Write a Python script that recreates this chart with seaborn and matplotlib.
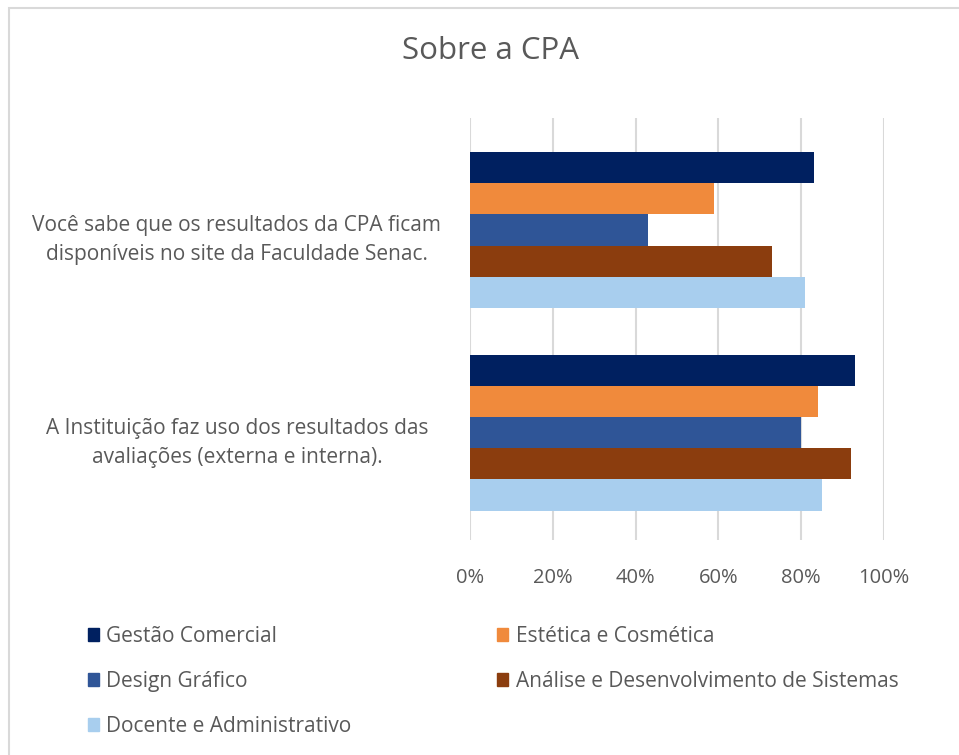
import matplotlib
matplotlib.use('Agg')
import matplotlib.pyplot as plt
import matplotlib.patches as mpatches
import matplotlib.transforms as mtrans
import pandas as pd
import seaborn as sns

perguntas = ['Você sabe que os resultados da CPA ficam\ndisponíveis no site da Faculdade Senac.',
             'A Instituição faz uso dos resultados das\navaliações (externa e interna).']
cursos = ['Gestão Comercial', 'Estética e Cosmética', 'Design Gráfico',
          'Análise e Desenvolvimento de Sistemas', 'Docente e Administrativo']
cores = ['#002060', '#F08A3C', '#2F5597', '#8B3D0E', '#A8CEEE']

gestao = [0.83, 0.93]
estetica = [0.59, 0.84]
design = [0.43, 0.80]
analise = [0.73, 0.92]
docente = [0.81, 0.85]
ticks = [0, 0.2, 0.4, 0.6, 0.8, 1.0]
tick_labels = ['0%', '20%', '40%', '60%', '80%', '100%']

series = [gestao, estetica, design, analise, docente]
rows = []
for curso, vals in zip(cursos, series):
    for p, v in zip(perguntas, vals):
        rows.append({'pergunta': p, 'curso': curso, 'valor': v})
df = pd.DataFrame(rows)

sns.set_style('white')
plt.rcParams['font.family'] = ['Open Sans', 'DejaVu Sans']
cinza = '#595959'

fig = plt.figure(figsize=(9.59, 7.55), dpi=100)
ax = fig.add_axes([470 / 959, 1 - 540 / 755, (884 - 470) / 959, (540 - 118) / 755])

sns.barplot(data=df, x='valor', y='pergunta', hue='curso', orient='h',
            order=perguntas, hue_order=cursos, palette=cores, width=0.77,
            saturation=1, edgecolor='none', legend=False, ax=ax)

ax.set_xlim(0, 1.0)
ax.set_ylim(1.53, -0.553)
ax.set_xticks(ticks)
ax.set_xticklabels(tick_labels)
ax.xaxis.grid(True, color='#D9D9D9', linewidth=1.5)
ax.set_axisbelow(True)
for s in ax.spines.values():
    s.set_visible(False)
ax.set_xlabel('')
ax.set_ylabel('')
ax.tick_params(axis='x', length=0, pad=20, labelsize=14.5, labelcolor=cinza)
ax.tick_params(axis='y', length=0)
ax.set_yticklabels([])

# category labels, centred as a block and sitting a little below the group centre
desloca = mtrans.ScaledTranslation(0, -10 / 100, fig.dpi_scale_trans)
trans = mtrans.blended_transform_factory(ax.transAxes, ax.transData) + desloca
for i, p in enumerate(perguntas):
    ax.text(-0.563, i, p, transform=trans, ha='center', va='center',
            multialignment='center', linespacing=1.49, fontsize=15, color=cinza)

fig.text(490 / 959, 1 - 51 / 755, 'Sobre a CPA', ha='center', va='center',
         fontsize=22.5, color=cinza)

ordem = [0, 2, 4, 1, 3]
handles = [mpatches.Patch(color=cores[i], label=cursos[i]) for i in ordem]
fig.legend(handles=handles, loc='upper left', bbox_to_anchor=(88 / 959, 1 - 626 / 755),
           ncol=2, frameon=False, fontsize=15, labelcolor=cinza,
           borderpad=0, borderaxespad=0,
           handlelength=0.53, handleheight=0.53, handletextpad=0.35,
           columnspacing=7.0, labelspacing=1.15)

fig.patches.append(mpatches.Rectangle((9 / 959, -0.1), 1.2, 1 - 8 / 755 + 0.1,
                                      transform=fig.transFigure, fill=False,
                                      edgecolor='#D9D9D9', linewidth=1.5))

fig.savefig('out.png', dpi=100)
